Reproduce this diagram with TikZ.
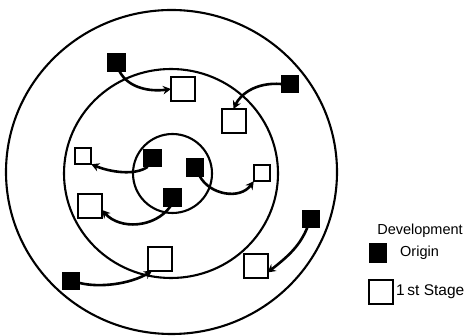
\documentclass[tikz,border=0pt]{standalone}
\usepackage{fontspec}
\setmainfont{Liberation Sans}
\usetikzlibrary{arrows.meta}
\begin{document}
\begin{tikzpicture}[x=1pt,y=-1pt,
  ring/.style={line width=2.1pt},
  origin/.style={draw,fill=black,line width=1.2pt,minimum size=17.5pt,inner sep=0pt,outer sep=0pt},
  stagebig/.style={draw,fill=white,line width=2pt,minimum size=24pt,inner sep=0pt,outer sep=0pt},
  stagesmall/.style={draw,fill=white,line width=1.7pt,minimum size=16.5pt,inner sep=0pt,outer sep=0pt},
  flow/.style={line width=2.6pt,-{Stealth[length=8pt,width=8.5pt]}},
  lbl/.style={inner sep=0pt,font=\fontsize{14.5}{16}\selectfont}]
\useasboundingbox (0,0) rectangle (474,336);
\draw[ring] (171.5,172) ellipse [x radius=165.5, y radius=162];
\draw[ring] (171,173.5) ellipse [x radius=107, y radius=104.5];
\draw[ring] (172.5,173.5) circle [radius=39.5];
% origins
\node[origin] (o1) at (116.5,62.5) {};
\node[origin] (o2) at (290,84) {};
\node[origin] (o3) at (152.5,158) {};
\node[origin] (o4) at (195,167.5) {};
\node[origin] (o5) at (172.5,197.5) {};
\node[origin] (o6) at (311,219) {};
\node[origin] (o7) at (71,281) {};
% first stage
\node[stagebig] (sa) at (183,89) {};
\node[stagebig] (sb) at (233.5,121) {};
\node[stagesmall] (sc) at (83,156) {};
\node[stagesmall] (sd) at (262,173) {};
\node[stagebig] (se) at (90,206) {};
\node[stagebig] (sf) at (160,259) {};
\node[stagebig] (sg) at (255.5,266.5) {};
% arrows
\draw[flow] (o1.south) ++(3,0) coordinate (a1) .. controls (128,88) and (150,92) .. (sa.west);
\draw[flow] (o2.west) .. controls (255,82) and (240,95) .. (sb.north);
\draw[flow] (o3.south west) ++(4,0) coordinate (a3) .. controls (135,176) and (110,172) .. (sc.south east);
\draw[flow] (o4.south east) ++(-4,0) coordinate (a4) .. controls (210,195) and (240,200) .. (sd.south west);
\draw[flow] (o5.south) ++(-2,0) coordinate (a5) .. controls (155,228) and (120,230) .. ([yshift=-4pt]se.east);
\draw[flow] (o6.south west) ++(5,0) coordinate (a6) .. controls (300,245) and (290,255) .. ([yshift=-6pt]sg.east);
\draw[flow] (o7.east) ++(0,2) coordinate (a7) .. controls (100,288) and (130,284) .. ([xshift=-8pt]sf.south);
% legend
\node[lbl] (t1) at (420,231) {Development};
\node[origin,minimum height=18.5pt] (l1) at (378,253) {};
\node[lbl,anchor=west] (t2) at (400,253) {Origin};
\node[stagebig] (l2) at (380.5,292) {};
\node[lbl,anchor=west,font=\fontsize{15.5}{17}\selectfont] (t3) at (396,292) {1\,st Stage};
\end{tikzpicture}
\end{document}
